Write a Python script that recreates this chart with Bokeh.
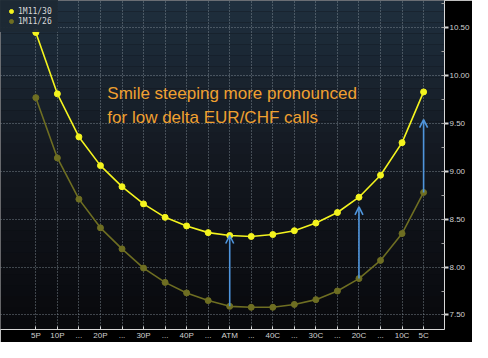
from bokeh.plotting import figure
from bokeh.models import (FixedTicker, Legend, LegendItem, Arrow, OpenHead,
                          Label, BoxAnnotation, PrintfTickFormatter, Range1d)
from bokeh.embed import file_html
from bokeh.resources import INLINE

labels = ["5P", "10P", "...", "20P", "...", "30P", "...", "40P", "...", "ATM",
          "...", "40C", "...", "30C", "...", "20C", "...", "10C", "5C"]
vol_1130 = [10.45, 9.81, 9.36, 9.06, 8.84, 8.66, 8.52, 8.43, 8.36, 8.33,
            8.32, 8.34, 8.38, 8.46, 8.57, 8.73, 8.96, 9.30, 9.83]
vol_1126 = [9.77, 9.14, 8.71, 8.41, 8.19, 7.99, 7.84, 7.73, 7.65, 7.59,
            7.58, 7.58, 7.61, 7.66, 7.75, 7.88, 8.07, 8.35, 8.78]
arrow_idx = [9, 15, 18]
arrow_tip = [8.33, 8.63, 9.54]
y_ticks = [7.5, 8.0, 8.5, 9.0, 9.5, 10.0, 10.5]
series_names = ["1M11/30", "1M11/26"]
note_lines = ["Smile steeping more pronounced", "for low delta EUR/CHF calls"]

xs = list(range(len(labels)))
AXFONT = "Liberation Sans"

p = figure(width=472, height=342, output_backend="svg", toolbar_location=None,
           x_range=Range1d(-1.64, 18.97), y_range=Range1d(7.348, 10.785),
           y_axis_location="right", min_border_left=0, min_border_top=0,
           min_border_right=26, min_border_bottom=11)
p.outline_line_color = None
p.border_fill_color = "black"
p.background_fill_color = "#0b0d11"

# background gradient bands
top_c = (31, 47, 62)
mid_c = (20, 25, 33)
bot_c = (8, 9, 12)
n = 30
y0, y1 = 7.348, 10.785
for k in range(n):
    t = k / n
    if t < 0.45:
        u = t / 0.45
        c = tuple(int(top_c[j] + (mid_c[j] - top_c[j]) * u) for j in range(3))
    else:
        u = (t - 0.45) / 0.55
        c = tuple(int(mid_c[j] + (bot_c[j] - mid_c[j]) * u) for j in range(3))
    hi = y1 - (y1 - y0) * k / n
    lo = y1 - (y1 - y0) * (k + 1) / n
    p.add_layout(BoxAnnotation(bottom=lo, top=hi, fill_color="#%02x%02x%02x" % c,
                               fill_alpha=1.0, line_alpha=0, level="image"))

# axes
xa = p.xaxis[0]
xa.ticker = FixedTicker(ticks=xs)
xa.major_label_overrides = {i: lab for i, lab in zip(xs, labels)}
xa.axis_line_color = "#d8d8d8"
xa.major_tick_line_color = "#d8d8d8"
xa.major_tick_in = 3
xa.major_tick_out = 0
xa.minor_tick_line_color = None
xa.major_label_standoff = 1
xa.major_label_text_color = "#d0d0d0"
xa.major_label_text_font = AXFONT
xa.major_label_text_font_size = "8px"

ya = p.yaxis[0]
ya.ticker = FixedTicker(ticks=y_ticks, minor_ticks=[7.25 + 0.25 * k for k in range(15)])
ya.formatter = PrintfTickFormatter(format="%.2f")
ya.axis_line_color = "#d8d8d8"
ya.major_tick_line_color = "#d8d8d8"
ya.major_tick_in = 0
ya.major_tick_out = 4
ya.major_tick_line_width = 2
ya.minor_tick_line_color = "#a0a0a0"
ya.minor_tick_in = 3
ya.minor_tick_out = 0
ya.major_label_standoff = 1
ya.major_label_text_color = "#d0d0d0"
ya.major_label_text_font = AXFONT
ya.major_label_text_font_size = "8px"

p.xgrid.ticker = FixedTicker(ticks=xs)
p.ygrid.ticker = FixedTicker(ticks=y_ticks)
for g in (p.xgrid[0], p.ygrid[0]):
    g.grid_line_color = "#8a949e"
    g.grid_line_dash = "1 2"
    g.grid_line_alpha = 0.85
    g.grid_line_width = 1

# series
olive = "#6e6e22"
yellow = "#f4f41e"
p.line(xs, vol_1126, line_color=olive, line_width=1.6)
r2 = p.scatter(xs, vol_1126, size=6, fill_color=olive, line_color=olive)
p.line(xs, vol_1130, line_color=yellow, line_width=1.6)
r1 = p.scatter(xs, vol_1130, size=6, fill_color=yellow, line_color=yellow)

# arrows
for i, tip in zip(arrow_idx, arrow_tip):
    p.add_layout(Arrow(end=OpenHead(size=8, line_color="#4f95dc", line_width=1.6),
                       x_start=i, y_start=vol_1126[i], x_end=i, y_end=tip,
                       line_color="#4f95dc", line_width=1.6))

# note
for k, line in enumerate(note_lines):
    p.add_layout(Label(x=3.32, y=9.91 - 0.245 * k, text=line, text_baseline="top",
                       text_color="#f0a030", text_font="Liberation Sans",
                       text_font_size="17px"))

legend = Legend(items=[LegendItem(label=series_names[0], renderers=[r1]),
                       LegendItem(label=series_names[1], renderers=[r2])],
                location="top_left", margin=0, padding=6, spacing=0,
                background_fill_color="#1d2934", background_fill_alpha=0.95,
                border_line_alpha=0, label_text_color="#d8d8d8",
                label_text_font="DejaVu Sans Mono", label_text_font_size="8px",
                glyph_width=10, glyph_height=10, label_height=10, label_standoff=2)
p.add_layout(legend)

open("out.html", "w").write(file_html(p, INLINE))
